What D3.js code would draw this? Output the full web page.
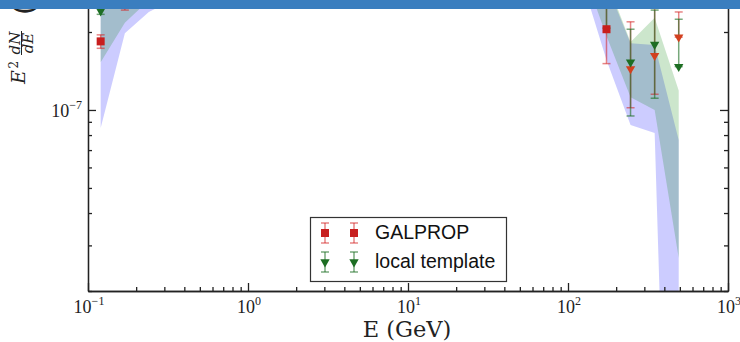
<!DOCTYPE html>
<html>
<head>
<meta charset="utf-8">
<script src="https://cdn.jsdelivr.net/npm/d3@7"></script>
<style>
  html, body { margin: 0; padding: 0; background: #ffffff; }
  svg { display: block; }
</style>
</head>
<body>
<script>
// Energy bins (GeV)
const energies = [0.12, 0.17, 0.24, 0.34, 0.48, 0.68, 0.96, 1.36, 1.92, 2.72, 3.84, 5.43, 7.68,
  10.9, 15.4, 21.7, 30.7, 43.5, 61.4, 86.9, 123, 174, 246, 348, 492];

// GALPROP spectrum E^2 dN/dE and its error bars
const galprop   = [1.84e-7, 2.61e-7, 3.00e-7, 3.30e-7, 3.60e-7, 3.85e-7, 4.05e-7, 4.20e-7, 4.30e-7, 4.35e-7, 4.40e-7, 4.40e-7, 4.35e-7,
  4.30e-7, 4.25e-7, 4.15e-7, 4.05e-7, 3.90e-7, 3.70e-7, 3.45e-7, 3.10e-7, 2.05e-7, 1.44e-7, 1.62e-7, 1.91e-7];
const galpropLo = [1.73e-7, 2.43e-7, 2.80e-7, 3.10e-7, 3.40e-7, 3.65e-7, 3.85e-7, 4.00e-7, 4.10e-7, 4.15e-7, 4.20e-7, 4.20e-7, 4.15e-7,
  4.10e-7, 4.05e-7, 3.95e-7, 3.85e-7, 3.70e-7, 3.45e-7, 3.20e-7, 2.85e-7, 1.51e-7, 1.02e-7, 1.15e-7, 1.91e-7];
const galpropHi = [1.95e-7, 2.80e-7, 3.20e-7, 3.50e-7, 3.80e-7, 4.05e-7, 4.25e-7, 4.40e-7, 4.50e-7, 4.55e-7, 4.60e-7, 4.60e-7, 4.55e-7,
  4.50e-7, 4.45e-7, 4.35e-7, 4.25e-7, 4.10e-7, 3.95e-7, 3.70e-7, 3.35e-7, 2.60e-7, 2.19e-7, 2.65e-7, 2.39e-7];
// bins where the GALPROP point is an upper limit
const galpropLimitBins = [22, 23, 24];

// Local template spectrum and its error bars
const local   = [2.41e-7, 3.00e-7, 3.35e-7, 3.65e-7, 3.95e-7, 4.20e-7, 4.40e-7, 4.55e-7, 4.65e-7, 4.70e-7, 4.75e-7, 4.75e-7, 4.70e-7,
  4.65e-7, 4.55e-7, 4.45e-7, 4.30e-7, 4.15e-7, 3.95e-7, 3.70e-7, 3.35e-7, 2.70e-7, 1.53e-7, 1.79e-7, 1.47e-7];
const localLo = [2.34e-7, 2.80e-7, 3.10e-7, 3.40e-7, 3.70e-7, 3.95e-7, 4.15e-7, 4.30e-7, 4.40e-7, 4.45e-7, 4.50e-7, 4.50e-7, 4.45e-7,
  4.40e-7, 4.30e-7, 4.20e-7, 4.05e-7, 3.90e-7, 3.70e-7, 3.45e-7, 3.05e-7, 2.07e-7, 9.48e-8, 1.11e-7, 1.47e-7];
const localHi = [2.50e-7, 3.20e-7, 3.60e-7, 3.90e-7, 4.20e-7, 4.45e-7, 4.65e-7, 4.80e-7, 4.90e-7, 4.95e-7, 5.00e-7, 5.00e-7, 4.95e-7,
  4.90e-7, 4.80e-7, 4.70e-7, 4.55e-7, 4.40e-7, 4.20e-7, 3.95e-7, 3.65e-7, 3.30e-7, 2.05e-7, 2.43e-7, 2.24e-7];

// Systematic uncertainty bands
const galpropBandLo = [8.52e-8, 1.98e-7, 2.39e-7, 2.66e-7, 2.90e-7, 3.10e-7, 3.25e-7, 3.35e-7, 3.45e-7, 3.50e-7, 3.50e-7, 3.50e-7, 3.45e-7,
  3.40e-7, 3.35e-7, 3.30e-7, 3.25e-7, 3.20e-7, 3.15e-7, 3.10e-7, 3.12e-7, 1.56e-7, 8.75e-8, 8.15e-8, 7.5e-11];
const galpropBandHi = [3.60e-7, 3.90e-7, 4.10e-7, 4.40e-7, 4.70e-7, 5.00e-7, 5.20e-7, 5.40e-7, 5.50e-7, 5.55e-7, 5.60e-7, 5.60e-7, 5.55e-7,
  5.50e-7, 5.40e-7, 5.30e-7, 5.15e-7, 5.00e-7, 4.80e-7, 4.50e-7, 4.10e-7, 3.07e-7, 1.81e-7, 1.78e-7, 7.66e-8];
const localBandLo = [1.53e-7, 2.17e-7, 2.65e-7, 2.95e-7, 3.20e-7, 3.40e-7, 3.55e-7, 3.65e-7, 3.75e-7, 3.80e-7, 3.80e-7, 3.80e-7, 3.75e-7,
  3.70e-7, 3.65e-7, 3.60e-7, 3.55e-7, 3.50e-7, 3.45e-7, 3.40e-7, 3.50e-7, 1.93e-7, 1.12e-7, 1.00e-7, 2.68e-8];
const localBandHi = [3.80e-7, 4.10e-7, 4.40e-7, 4.70e-7, 5.00e-7, 5.30e-7, 5.50e-7, 5.70e-7, 5.80e-7, 5.85e-7, 5.90e-7, 5.90e-7, 5.85e-7,
  5.80e-7, 5.70e-7, 5.60e-7, 5.45e-7, 5.30e-7, 5.10e-7, 4.80e-7, 4.40e-7, 3.18e-7, 1.83e-7, 2.27e-7, 1.19e-7];

// Axis ticks
const xMajorTicks = [0.1, 1, 10, 100, 1000];
const xTickExponents = ["−1", "0", "1", "2", "3"];
const yMajorTicks = [1e-7, 1e-6];
const yLabelTicks = [1e-7];
const yTickExponents = ["−7"];

const legendLabels = ["GALPROP", "local template"];

// ---- layout ----
const W = 740, H = 342;
const left = 88, right = 728, bottom = 291;
const pxPerDecadeY = 259;

const x = d3.scaleLog().domain([0.1, 1000]).range([left, right]);
const y = d3.scaleLog().domain([2e-8, 1e-6]).range([bottom, bottom - pxPerDecadeY * Math.log10(50)]);

const RED = "#c81e1e", GREEN = "#1d6e23";

const svg = d3.select("body").append("svg").attr("width", W).attr("height", H);

svg.append("defs").append("clipPath").attr("id", "plotclip")
  .append("rect").attr("x", left).attr("y", -400).attr("width", right - left).attr("height", bottom + 400);

const plot = svg.append("g").attr("clip-path", "url(#plotclip)");

const bins = energies.map((e, i) => i);

// bands: GALPROP (blue) under local template (green)
const area = (lo, hi) => d3.area().x(i => x(energies[i])).y0(i => y(lo[i])).y1(i => y(hi[i]));
plot.append("path").attr("d", area(galpropBandLo, galpropBandHi)(bins))
  .attr("fill", "#0000ff").attr("fill-opacity", 0.2);
plot.append("path").attr("d", area(localBandLo, localBandHi)(bins))
  .attr("fill", "#008000").attr("fill-opacity", 0.2);

// error bars
function errorBars(g, lo, hi, color, opacity) {
  const eb = g.append("g").attr("stroke", color).attr("stroke-opacity", opacity).attr("stroke-width", 1.5);
  bins.forEach(i => {
    const cx = x(energies[i]);
    eb.append("line").attr("x1", cx).attr("x2", cx).attr("y1", y(lo[i])).attr("y2", y(hi[i]));
    eb.append("line").attr("x1", cx - 4).attr("x2", cx + 4).attr("y1", y(lo[i])).attr("y2", y(lo[i]));
    eb.append("line").attr("x1", cx - 4).attr("x2", cx + 4).attr("y1", y(hi[i])).attr("y2", y(hi[i]));
  });
}
errorBars(plot, galpropLo, galpropHi, "#d42020", 0.55);
errorBars(plot, localLo, localHi, "#1d6e23", 0.6);

const tri = d3.symbol().type(d3.symbolTriangle).size(38);
function triangleDown(g, cx, cy, color) {
  g.append("path").attr("d", tri()).attr("transform", `translate(${cx},${cy}) rotate(180)`)
    .attr("fill", color);
}
function square(g, cx, cy, color) {
  g.append("rect").attr("x", cx - 4).attr("y", cy - 4).attr("width", 8).attr("height", 8).attr("fill", color);
}

// markers
bins.forEach(i => {
  const cx = x(energies[i]);
  if (galpropLimitBins.includes(i)) triangleDown(plot, cx, y(galprop[i]), "#d2401e");
  else square(plot, cx, y(galprop[i]), RED);
});
bins.forEach(i => triangleDown(plot, x(energies[i]), y(local[i]), GREEN));

// ---- axes ----
const axisColor = "#222";
function styleAxis(g) {
  g.selectAll("path,line").attr("stroke", axisColor).attr("stroke-width", 1.3);
  g.selectAll("text").remove();
}
const minorX = [];
[0.1, 1, 10, 100].forEach(d => { for (let k = 2; k <= 9; k++) minorX.push(d * k); });
const minorY = [];
[1e-8, 1e-7].forEach(d => { for (let k = 2; k <= 9; k++) minorY.push(d * k); });

svg.append("g").attr("transform", `translate(0,${bottom})`)
  .call(d3.axisBottom(x).tickValues(xMajorTicks).tickSize(-8).tickSizeOuter(0)).call(styleAxis);
svg.append("g").attr("transform", `translate(0,${bottom})`)
  .call(d3.axisBottom(x).tickValues(minorX).tickSize(-4).tickSizeOuter(0)).call(styleAxis);
svg.append("g").attr("transform", `translate(${left},0)`)
  .call(d3.axisLeft(y).tickValues(yMajorTicks).tickSize(-8).tickSizeOuter(0)).call(styleAxis);
svg.append("g").attr("transform", `translate(${left},0)`)
  .call(d3.axisLeft(y).tickValues(minorY).tickSize(-4).tickSizeOuter(0)).call(styleAxis);
svg.append("g").attr("transform", `translate(${right},0)`)
  .call(d3.axisRight(y).tickValues(yMajorTicks).tickSize(-8).tickSizeOuter(0)).call(styleAxis);
svg.append("g").attr("transform", `translate(${right},0)`)
  .call(d3.axisRight(y).tickValues(minorY).tickSize(-4).tickSizeOuter(0)).call(styleAxis);

function powerLabel(t, exp) {
  t.append("tspan").text("10");
  t.append("tspan").attr("dy", -8).attr("font-size", 12).text(exp);
}
xMajorTicks.forEach((v, i) => {
  const t = svg.append("text").attr("x", x(v) + 1).attr("y", 313)
    .attr("text-anchor", "middle").attr("font-family", "Liberation Serif").attr("font-size", 18).attr("fill", "#222");
  powerLabel(t, xTickExponents[i]);
});
yLabelTicks.forEach((v, i) => {
  const t = svg.append("text").attr("x", 82).attr("y", y(v) + 7)
    .attr("text-anchor", "end").attr("font-family", "Liberation Serif").attr("font-size", 18).attr("fill", "#222");
  powerLabel(t, yTickExponents[i]);
});

// axis titles
svg.append("text").attr("x", 407).attr("y", 337).attr("text-anchor", "middle")
  .attr("font-family", "DejaVu Serif").attr("font-size", 22.5).attr("fill", "#222").text("E (GeV)");

const yl = svg.append("g").attr("transform", "translate(25,85) rotate(-90)")
  .attr("font-family", "DejaVu Serif").attr("fill", "#222");
yl.append("text").attr("x", 1).attr("y", 0).attr("font-size", 19).attr("font-style", "italic").text("E");
yl.append("text").attr("x", 16.5).attr("y", -7.5).attr("font-size", 12).text("2");
yl.append("text").attr("x", 42).attr("y", -5.5).attr("font-size", 15).attr("font-style", "italic")
  .attr("text-anchor", "middle").text("dN");
yl.append("line").attr("x1", 30).attr("x2", 54).attr("y1", -3.5).attr("y2", -3.5).attr("stroke", "#222").attr("stroke-width", 1);
yl.append("text").attr("x", 42).attr("y", 8).attr("font-size", 15).attr("font-style", "italic")
  .attr("text-anchor", "middle").text("dE");
const unit = yl.append("text").attr("x", 70).attr("y", 9).attr("font-size", 30);
unit.append("tspan").text("(");
unit.append("tspan").attr("font-size", 17).attr("dy", -9).text("GeV cm⁻² s⁻¹ sr⁻¹");
unit.append("tspan").attr("dy", 9).text(")");

// ---- legend ----
const lg = svg.append("g");
lg.append("rect").attr("x", 310.5).attr("y", 217.5).attr("width", 196).attr("height", 64)
  .attr("fill", "#fff").attr("stroke", "#333").attr("stroke-width", 1.2);
const legendRows = [
  { color: "#d42020", opacity: 0.55, marker: "square" },
  { color: "#1d6e23", opacity: 0.6, marker: "triangle" }
];
legendRows.forEach((row, r) => {
  const cy = 233 + r * 29;
  [325, 354].forEach(cx => {
    const eb = lg.append("g").attr("stroke", row.color).attr("stroke-opacity", row.opacity).attr("stroke-width", 1.5);
    eb.append("line").attr("x1", cx).attr("x2", cx).attr("y1", cy - 10).attr("y2", cy + 10);
    eb.append("line").attr("x1", cx - 4).attr("x2", cx + 4).attr("y1", cy - 10).attr("y2", cy - 10);
    eb.append("line").attr("x1", cx - 4).attr("x2", cx + 4).attr("y1", cy + 10).attr("y2", cy + 10);
    if (row.marker === "square") square(lg, cx, cy, RED);
    else triangleDown(lg, cx, cy, GREEN);
  });
  lg.append("text").attr("x", 375).attr("y", cy + 6).attr("font-family", "Liberation Sans")
    .attr("font-size", 19.5).attr("fill", "#111").text(legendLabels[r]);
});

// header strip
svg.append("rect").attr("x", 0).attr("y", 0).attr("width", W).attr("height", 9).attr("fill", "#3a7ebf");
</script>
</body>
</html>
